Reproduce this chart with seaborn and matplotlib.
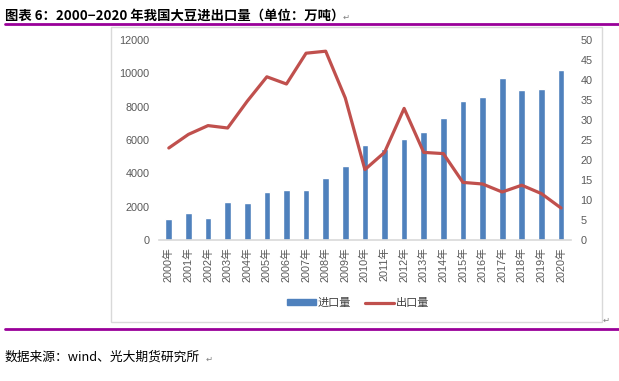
import matplotlib
matplotlib.use("Agg")
import matplotlib.pyplot as plt
import seaborn as sns
import numpy as np
import pandas as pd
from matplotlib.lines import Line2D
from matplotlib.patches import Rectangle, Patch

years = [f"{y}年" for y in range(2000, 2021)]
imports = [1260, 1620, 1340, 2280, 2200, 2880, 3020, 3020, 3700, 4440, 5680,
           5460, 6040, 6500, 7320, 8360, 8560, 9740, 8980, 9060, 10200]
exports = [23.0, 26.4, 28.6, 28.0, 34.7, 40.8, 39.0, 46.7, 47.2, 35.5, 17.6,
           21.9, 32.9, 21.9, 21.6, 14.4, 14.0, 12.0, 13.7, 11.6, 8.0]
left_ticks = [0, 2000, 4000, 6000, 8000, 10000, 12000]
right_ticks = [0, 5, 10, 15, 20, 25, 30, 35, 40, 45, 50]
title = "图表 6：2000−2020 年我国大豆进出口量（单位：万吨）"
source = "数据来源：wind、光大期货研究所"
label_in = "进口量"
label_out = "出口量"

sns.set_theme(style="white")
plt.rcParams['font.family'] = ['Liberation Sans', 'Noto Sans CJK SC', 'DejaVu Sans']

BLUE = "#4F81BD"
RED = "#C0504D"
GRAY = "#595959"
PURPLE = "#990099"

W, H = 619, 381
fig = plt.figure(figsize=(W / 100, H / 100), dpi=100)

# chart frame
fig.patches.append(Rectangle((111 / W, 1 - 322 / H), 491 / W, 295 / H,
                             transform=fig.transFigure, fill=False,
                             edgecolor="#D9D9D9", linewidth=1.0, zorder=0))
# purple rules
fig.lines.append(Line2D([5 / W, 1], [1 - 24 / H, 1 - 24 / H], transform=fig.transFigure,
                        color=PURPLE, linewidth=2.0))
fig.lines.append(Line2D([5 / W, 1], [1 - 329 / H, 1 - 329 / H], transform=fig.transFigure,
                        color=PURPLE, linewidth=2.0))

ax = fig.add_axes([159 / W, 1 - 240 / H, (570.8 - 159) / W, 200 / H])
df = pd.DataFrame({"year": years, "imports": imports, "exports": exports})
sns.barplot(data=df, x="year", y="imports", color=BLUE, width=0.34,
            saturation=1, ax=ax)
ax.set_xlim(-0.5, len(years) - 0.5)
ax.set_ylim(0, 12000)
ax.set_yticks(left_ticks)
ax.set_yticklabels([str(t) for t in left_ticks])
ax.set_xlabel("")
ax.set_ylabel("")
for s in ["top", "left", "right"]:
    ax.spines[s].set_visible(False)
ax.spines["bottom"].set_color("#D9D9D9")
ax.spines["bottom"].set_linewidth(1.2)
ax.tick_params(axis="y", length=0, pad=7, labelsize=7.8, labelcolor=GRAY)
ax.tick_params(axis="x", length=0, pad=5, labelsize=7.8, labelcolor=GRAY,
               labelrotation=90)

ax2 = ax.twinx()
sns.lineplot(x=np.arange(len(years)), y=exports, color=RED, linewidth=2.3, ax=ax2)
ax2.set_ylim(0, 50)
ax2.set_yticks(right_ticks)
ax2.set_yticklabels([str(t) for t in right_ticks])
ax2.set_xlim(-0.5, len(years) - 0.5)
for s in ["top", "left", "right", "bottom"]:
    ax2.spines[s].set_visible(False)
ax2.tick_params(axis="y", length=0, pad=7, labelsize=7.8, labelcolor=GRAY)
ax2.set_ylabel("")

handles = [Patch(facecolor=BLUE, edgecolor=BLUE),
           Line2D([0], [0], color=RED, linewidth=2.3)]
fig.legend(handles, [label_in, label_out], loc="center",
           bbox_to_anchor=(358 / W, 1 - 303 / H), ncol=2, frameon=False,
           fontsize=8, handlelength=2.6, handleheight=0.45, handletextpad=0.2,
           columnspacing=1.2, labelcolor="#404040")

fig.text(5 / W, 1 - 20 / H, title, fontsize=9.6, fontweight="bold", color="black",
         family=['Noto Sans CJK SC', 'DejaVu Sans'], va="baseline", ha="left")
fig.text(343 / W, 1 - 20 / H, "↵", fontsize=6, color="#808080",
         family=['DejaVu Sans'], va="baseline", ha="left")
fig.text(5 / W, 1 - 357 / H, source, fontsize=9.2, color="black",
         family=['Noto Sans CJK SC', 'DejaVu Sans'], va="center", ha="left")
fig.text(206 / W, 1 - 359 / H, "↵", fontsize=6, color="#808080",
         family=['DejaVu Sans'], va="center", ha="left")
fig.text(603 / W, 1 - 320 / H, "↵", fontsize=6, color="#808080",
         family=['DejaVu Sans'], va="center", ha="left")

fig.savefig("out.png", dpi=100)
